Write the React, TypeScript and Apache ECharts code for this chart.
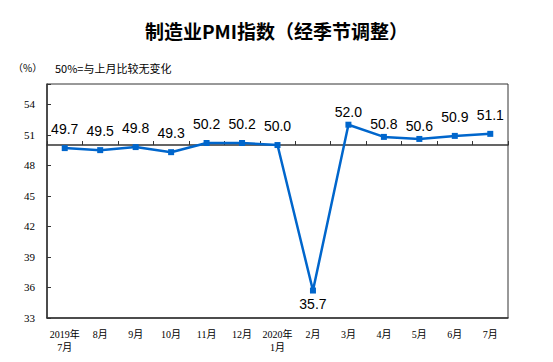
import React, { useEffect, useRef } from 'react';
import * as echarts from 'echarts';

const categories = ['2019年\n7月', '8月', '9月', '10月', '11月', '12月', '2020年\n1月', '2月', '3月', '4月', '5月', '6月', '7月'];
const pmiValues = [49.7, 49.5, 49.8, 49.3, 50.2, 50.2, 50.0, 35.7, 52.0, 50.8, 50.6, 50.9, 51.1];
const yTickLabels = [33, 36, 39, 42, 45, 48, 51, 54];
const baseline = 50;
const yMin = 33;
const yMax = 56;
const yInterval = 3;

const titleText = '制造业PMI指数（经季节调整）';
const unitText = '（%）';
const noteText = '50%=与上月比较无变化';

export default function App() {
  const ref = useRef<HTMLDivElement>(null);

  useEffect(() => {
    if (!ref.current) return;
    const chart = echarts.init(ref.current, undefined, { renderer: 'svg' });
    const minVal = Math.min(...pmiValues);
    const closeLabelIdx = new Set([8, 9, 10]);
    const data = pmiValues.map((v, i) => {
      if (v === minVal) {
        return { value: v, label: { position: 'bottom', distance: 3 } };
      }
      if (closeLabelIdx.has(i)) {
        return { value: v, label: { distance: 3 } };
      }
      return { value: v };
    });

    chart.setOption({
      animation: false,
      title: [
        {
          text: titleText,
          left: 'center',
          top: 21,
          padding: 0,
          textStyle: { fontFamily: 'Noto Sans CJK SC', fontWeight: 'bold', fontSize: 19, color: '#000' },
        },
        {
          text: unitText,
          left: 13,
          top: 62,
          padding: 0,
          textStyle: { fontFamily: 'Noto Sans CJK SC', fontWeight: 'normal', fontSize: 10, color: '#000' },
        },
        {
          text: noteText,
          left: 55,
          top: 62,
          padding: 0,
          textStyle: { fontFamily: 'Noto Sans CJK SC', fontWeight: 'normal', fontSize: 11, color: '#000' },
        },
      ],
      grid: {
        left: 47,
        right: 45,
        top: 84,
        bottom: 44,
        show: true,
        borderColor: '#333',
        borderWidth: 1,
        backgroundColor: 'transparent',
      },
      xAxis: [
        {
          type: 'category',
          data: categories,
          position: 'bottom',
          boundaryGap: true,
          axisLine: { onZero: false, lineStyle: { color: '#333', width: 1.5 } },
          axisTick: { show: false },
          axisLabel: {
            interval: 0,
            margin: 10,
            color: '#000',
            fontFamily: "'Liberation Serif', 'Noto Sans CJK SC', serif",
            fontSize: 10,
            lineHeight: 13,
          },
        },
        {
          type: 'category',
          data: categories,
          position: 'bottom',
          boundaryGap: true,
          axisLine: { onZero: true, onZeroAxisIndex: 1, lineStyle: { color: '#333', width: 1.5 } },
          axisTick: { show: true, inside: true, length: 4, interval: 0, lineStyle: { color: '#333' } },
          axisLabel: { show: false },
          splitLine: { show: false },
        },
      ],
      yAxis: [
        {
          type: 'value',
          min: yMin,
          max: yMax,
          interval: yInterval,
          axisLine: { show: true, lineStyle: { color: '#333', width: 1.5 } },
          axisTick: { show: true, inside: true, length: 4, lineStyle: { color: '#333' } },
          splitLine: { show: false },
          axisLabel: {
            margin: 12,
            color: '#000',
            fontFamily: "'Liberation Serif', serif",
            fontSize: 11,
            formatter: (v: number) => (yTickLabels.includes(v) ? String(v) : ''),
          },
        },
        {
          type: 'value',
          min: yMin - baseline,
          max: yMax - baseline,
          show: false,
          splitLine: { show: false },
        },
      ],
      series: [
        {
          type: 'line',
          xAxisIndex: 0,
          yAxisIndex: 0,
          data,
          symbol: 'rect',
          symbolSize: 6,
          lineStyle: { color: '#0066CC', width: 2.5 },
          itemStyle: { color: '#0066CC' },
          label: {
            show: true,
            position: 'top',
            distance: 9,
            color: '#000',
            fontFamily: "'Liberation Sans', Arial, sans-serif",
            fontSize: 14,
            formatter: (p: any) => Number(p.value).toFixed(1),
          },
        },
      ],
    });

    return () => {
      chart.dispose();
    };
  }, []);

  return (
    <div
      ref={ref}
      style={{ position: 'fixed', left: 0, top: 0, width: 553, height: 362, background: '#fff' }}
    />
  );
}
